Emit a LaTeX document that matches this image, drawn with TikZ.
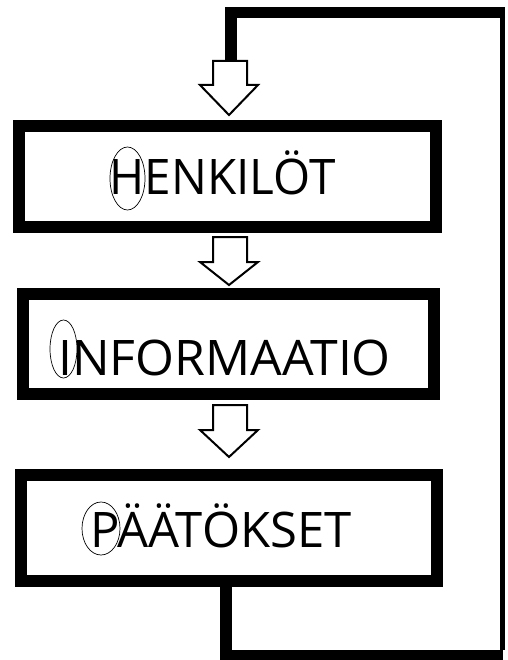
\documentclass[tikz,border=0pt]{standalone}
\usepackage{fontspec}
\setmainfont{Open Sans}
\usetikzlibrary{shapes.geometric}
\begin{document}
\begin{tikzpicture}[x=1pt,y=-1pt,
  box/.style={draw,line width=12pt,rectangle,inner sep=0pt},
  lbl/.style={anchor=base west,inner sep=0pt,font=\fontsize{49}{49}\selectfont},
  ring/.style={draw,ellipse,line width=0.7pt,inner sep=0pt},
  blockarrow/.style={draw,fill=white,line width=2pt,line join=miter}]
\useasboundingbox (0,0) rectangle (507,660);
\node[box,minimum width=417pt,minimum height=101pt] (b1) at (227.5,176.5) {};
\node[box,minimum width=411pt,minimum height=100pt] (b2) at (228.5,344) {};
\node[box,minimum width=416pt,minimum height=105.5pt] (b3) at (229,528) {};
\node[lbl,xscale=0.973] (t1) at (109.5,195) {HENKILÖT};
\node[lbl,xscale=1.02] (t2) at (58,375) {INFORMAATIO};
\node[lbl] (t3) at (90,547) {PÄÄTÖKSET};
\node[ring,minimum width=35pt,minimum height=63pt] (e1) at (127.5,178.5) {};
\node[ring,minimum width=27pt,minimum height=58pt] (e2) at (63.5,349) {};
\node[ring,minimum width=38pt,minimum height=53pt] (e3) at (101,528.5) {};
% block arrows
\draw[blockarrow] (213,61) -- (247,61) -- (247,85) -- (258,85) -- (229,115) -- (200,85) -- (213,85) -- cycle;
\draw[blockarrow] (213,237) -- (247,237) -- (247,262) -- (258,262) -- (229,285) -- (200,262) -- (213,262) -- cycle;
\draw[blockarrow] (213,405) -- (247,405) -- (247,430) -- (258,430) -- (229,457) -- (200,430) -- (213,430) -- cycle;
% loop
\coordinate (bl) at (226,655);
\coordinate (br) at (502.5,655);
\coordinate (tr) at (502.5,12.5);
\coordinate (tl) at (231,12.5);
\coordinate (al) at (231,61);
\draw[line width=12pt] (b3.south -| bl) -- ([yshift=5pt]bl);
\draw[line width=10pt] ([xshift=-6pt]bl) -- (br);
\draw[line width=5pt] ([yshift=5pt]br) -- ([yshift=-5.5pt]tr);
\draw[line width=11pt] ([xshift=2.5pt]tr) -- ([xshift=-6pt]tl);
\draw[line width=12pt] ([yshift=-5.5pt]tl) -- (al);
\end{tikzpicture}
\end{document}
